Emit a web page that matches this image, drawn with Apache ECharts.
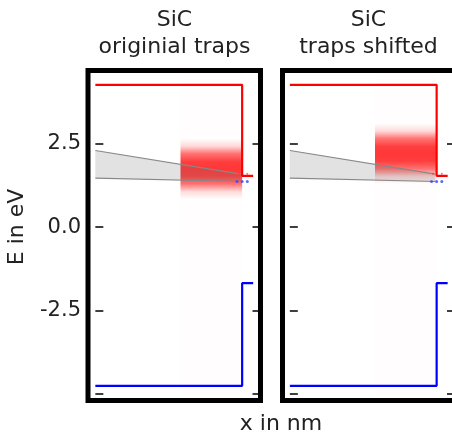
<!DOCTYPE html>
<html>
<head>
<meta charset="utf-8">
<script src="https://cdn.jsdelivr.net/npm/echarts@6/dist/echarts.min.js"></script>
<style>html,body{margin:0;padding:0;background:#fff}#c{width:452px;height:435px}</style>
</head>
<body>
<div id="c"></div>
<script>
// ---- data ----
const panelTitles = ['SiC\noriginial traps', 'SiC\ntraps shifted'];
const xRange = [-1, 22.5];
const yRange = [-5.2, 4.7];
const yTicks = [-5, -2.5, 0, 2.5];
const yTickLabels = [-2.5, 0, 2.5];
// conduction band (red) and valence band (blue), x in nm, E in eV
const cbX = [0, 20, 20, 21.5];
const cbE = [4.27, 4.27, 1.54, 1.54];
const vbX = [0, 20, 20, 21.5];
const vbE = [-4.76, -4.76, -1.68, -1.68];
// grey band (trap energy window)
const bandX = [0, 19.8];
const bandTop = [2.30, 1.59];
const bandBottom = [1.47, 1.37];
// trap distribution per panel
const trapXRange = [11.6, 20];
const trapCenter = [1.75, 2.2];
const trapSpread = 0.9;
// small markers at interface
const blueDotX = [19.3, 20.0, 20.7];
const blueDotE = [1.37, 1.37, 1.37];
const redDotX = [19.5, 20.7];
const redDotE = [1.6, 1.6];

const zip = (a, b) => a.map((v, i) => [v, b[i]]);

const chart = echarts.init(document.getElementById('c'), null, {renderer: 'canvas'});
const FONT = 'DejaVu Sans';
const gridLefts = [88, 282.5];

const grids = gridLefts.map(l => ({
  left: l, top: 70.5, width: 172.5, height: 330, outerBoundsMode: 'none',
  show: true, borderColor: '#000', borderWidth: 5, backgroundColor: 'transparent', containLabel: false
}));

const xAxes = gridLefts.map((_, i) => ({
  type: 'value', gridIndex: i, min: xRange[0], max: xRange[1],
  axisLine: {show: false}, axisTick: {show: false}, axisLabel: {show: false}, splitLine: {show: false}
}));

function yAx(gi, pos, labels) {
  return {
    type: 'value', gridIndex: gi, position: pos, min: yRange[0], max: yRange[1],
    axisLine: {show: false}, splitLine: {show: false},
    axisTick: {show: true, inside: true, length: 8, customValues: yTicks, lineStyle: {color: '#000', width: 1.5}},
    axisLabel: labels ? {show: true, customValues: yTickLabels, formatter: v => v.toFixed(1),
      fontFamily: FONT, fontSize: 21, color: '#222', margin: 7} : {show: false}
  };
}
const yAxes = [yAx(0, 'left', true), yAx(0, 'right', false), yAx(1, 'left', false), yAx(1, 'right', false)];

const series = [];
gridLefts.forEach((_, i) => {
  const xi = i, yi = i * 2;
  const c = trapCenter[i];
  // faint background band + trap gradient
  series.push({
    type: 'line', xAxisIndex: xi, yAxisIndex: yi, data: [], silent: true,
    markArea: {silent: true, z: 1, data: [
      [{xAxis: trapXRange[0], yAxis: yRange[0], itemStyle: {color: 'rgba(255,0,0,0.008)'}}, {xAxis: trapXRange[1], yAxis: yRange[1]}],
      [{xAxis: trapXRange[0], yAxis: c + trapSpread, itemStyle: {color: {
        type: 'linear', x: 0, y: 0, x2: 0, y2: 1, colorStops: [
          {offset: 0, color: 'rgba(255,20,20,0)'},
          {offset: 0.12, color: 'rgba(255,20,20,0.15)'},
          {offset: 0.25, color: 'rgba(255,20,20,0.6)'},
          {offset: 0.38, color: 'rgba(255,20,20,0.82)'},
          {offset: 0.5, color: 'rgba(255,20,20,0.85)'},
          {offset: 0.62, color: 'rgba(255,20,20,0.82)'},
          {offset: 0.75, color: 'rgba(255,20,20,0.6)'},
          {offset: 0.88, color: 'rgba(255,20,20,0.15)'},
          {offset: 1, color: 'rgba(255,20,20,0)'}
        ]}}}, {xAxis: trapXRange[1], yAxis: c - trapSpread}]
    ]}
  });
  // grey band polygon
  series.push({
    type: 'custom', xAxisIndex: xi, yAxisIndex: yi, z: 3, silent: true,
    data: [0],
    renderItem: (params, api) => {
      const pts = [];
      bandX.forEach((x, k) => pts.push(api.coord([x, bandTop[k]])));
      for (let k = bandX.length - 1; k >= 0; k--) pts.push(api.coord([bandX[k], bandBottom[k]]));
      return {type: 'polygon', shape: {points: pts}, style: {fill: 'rgba(110,110,110,0.2)', stroke: null}};
    }
  });
  series.push({type: 'line', xAxisIndex: xi, yAxisIndex: yi, z: 4, data: zip(bandX, bandTop), symbol: 'none',
    lineStyle: {color: '#888', width: 1.2}, silent: true});
  series.push({type: 'line', xAxisIndex: xi, yAxisIndex: yi, z: 4, data: zip(bandX, bandBottom), symbol: 'none',
    lineStyle: {color: '#888', width: 1.2}, silent: true});
  series.push({type: 'line', xAxisIndex: xi, yAxisIndex: yi, z: 5, data: zip(cbX, cbE), symbol: 'none',
    lineStyle: {color: '#ff0000', width: 2.2}, silent: true});
  series.push({type: 'line', xAxisIndex: xi, yAxisIndex: yi, z: 5, data: zip(vbX, vbE), symbol: 'none',
    lineStyle: {color: '#0000ff', width: 2.2}, silent: true});
  series.push({type: 'scatter', xAxisIndex: xi, yAxisIndex: yi, z: 6, data: zip(blueDotX, blueDotE), symbolSize: 3,
    itemStyle: {color: '#3344ff', opacity: 0.8}, silent: true});
  series.push({type: 'scatter', xAxisIndex: xi, yAxisIndex: yi, z: 6, data: zip(redDotX, redDotE), symbolSize: 2,
    itemStyle: {color: '#ff3333', opacity: 0.7}, silent: true});
});

const graphics = [
  {type: 'text', x: 174.5, y: 34, style: {text: panelTitles[0], font: '22px "DejaVu Sans"', fill: '#222',
    textAlign: 'center', textVerticalAlign: 'middle', lineHeight: 27}},
  {type: 'text', x: 368.5, y: 34, style: {text: panelTitles[1], font: '22px "DejaVu Sans"', fill: '#222',
    textAlign: 'center', textVerticalAlign: 'middle', lineHeight: 27}},
  {type: 'text', x: 281, y: 424, style: {text: 'x in nm', font: '22px "DejaVu Sans"', fill: '#222',
    textAlign: 'center', textVerticalAlign: 'middle'}},
  {type: 'text', x: 17.5, y: 227, rotation: Math.PI / 2, style: {text: 'E in eV', font: '22px "DejaVu Sans"', fill: '#222',
    textAlign: 'center', textVerticalAlign: 'middle'}}
];

chart.setOption({
  animation: false,
  backgroundColor: '#fff',
  grid: grids,
  xAxis: xAxes,
  yAxis: yAxes,
  series: series,
  graphic: graphics
});
</script>
</body>
</html>
